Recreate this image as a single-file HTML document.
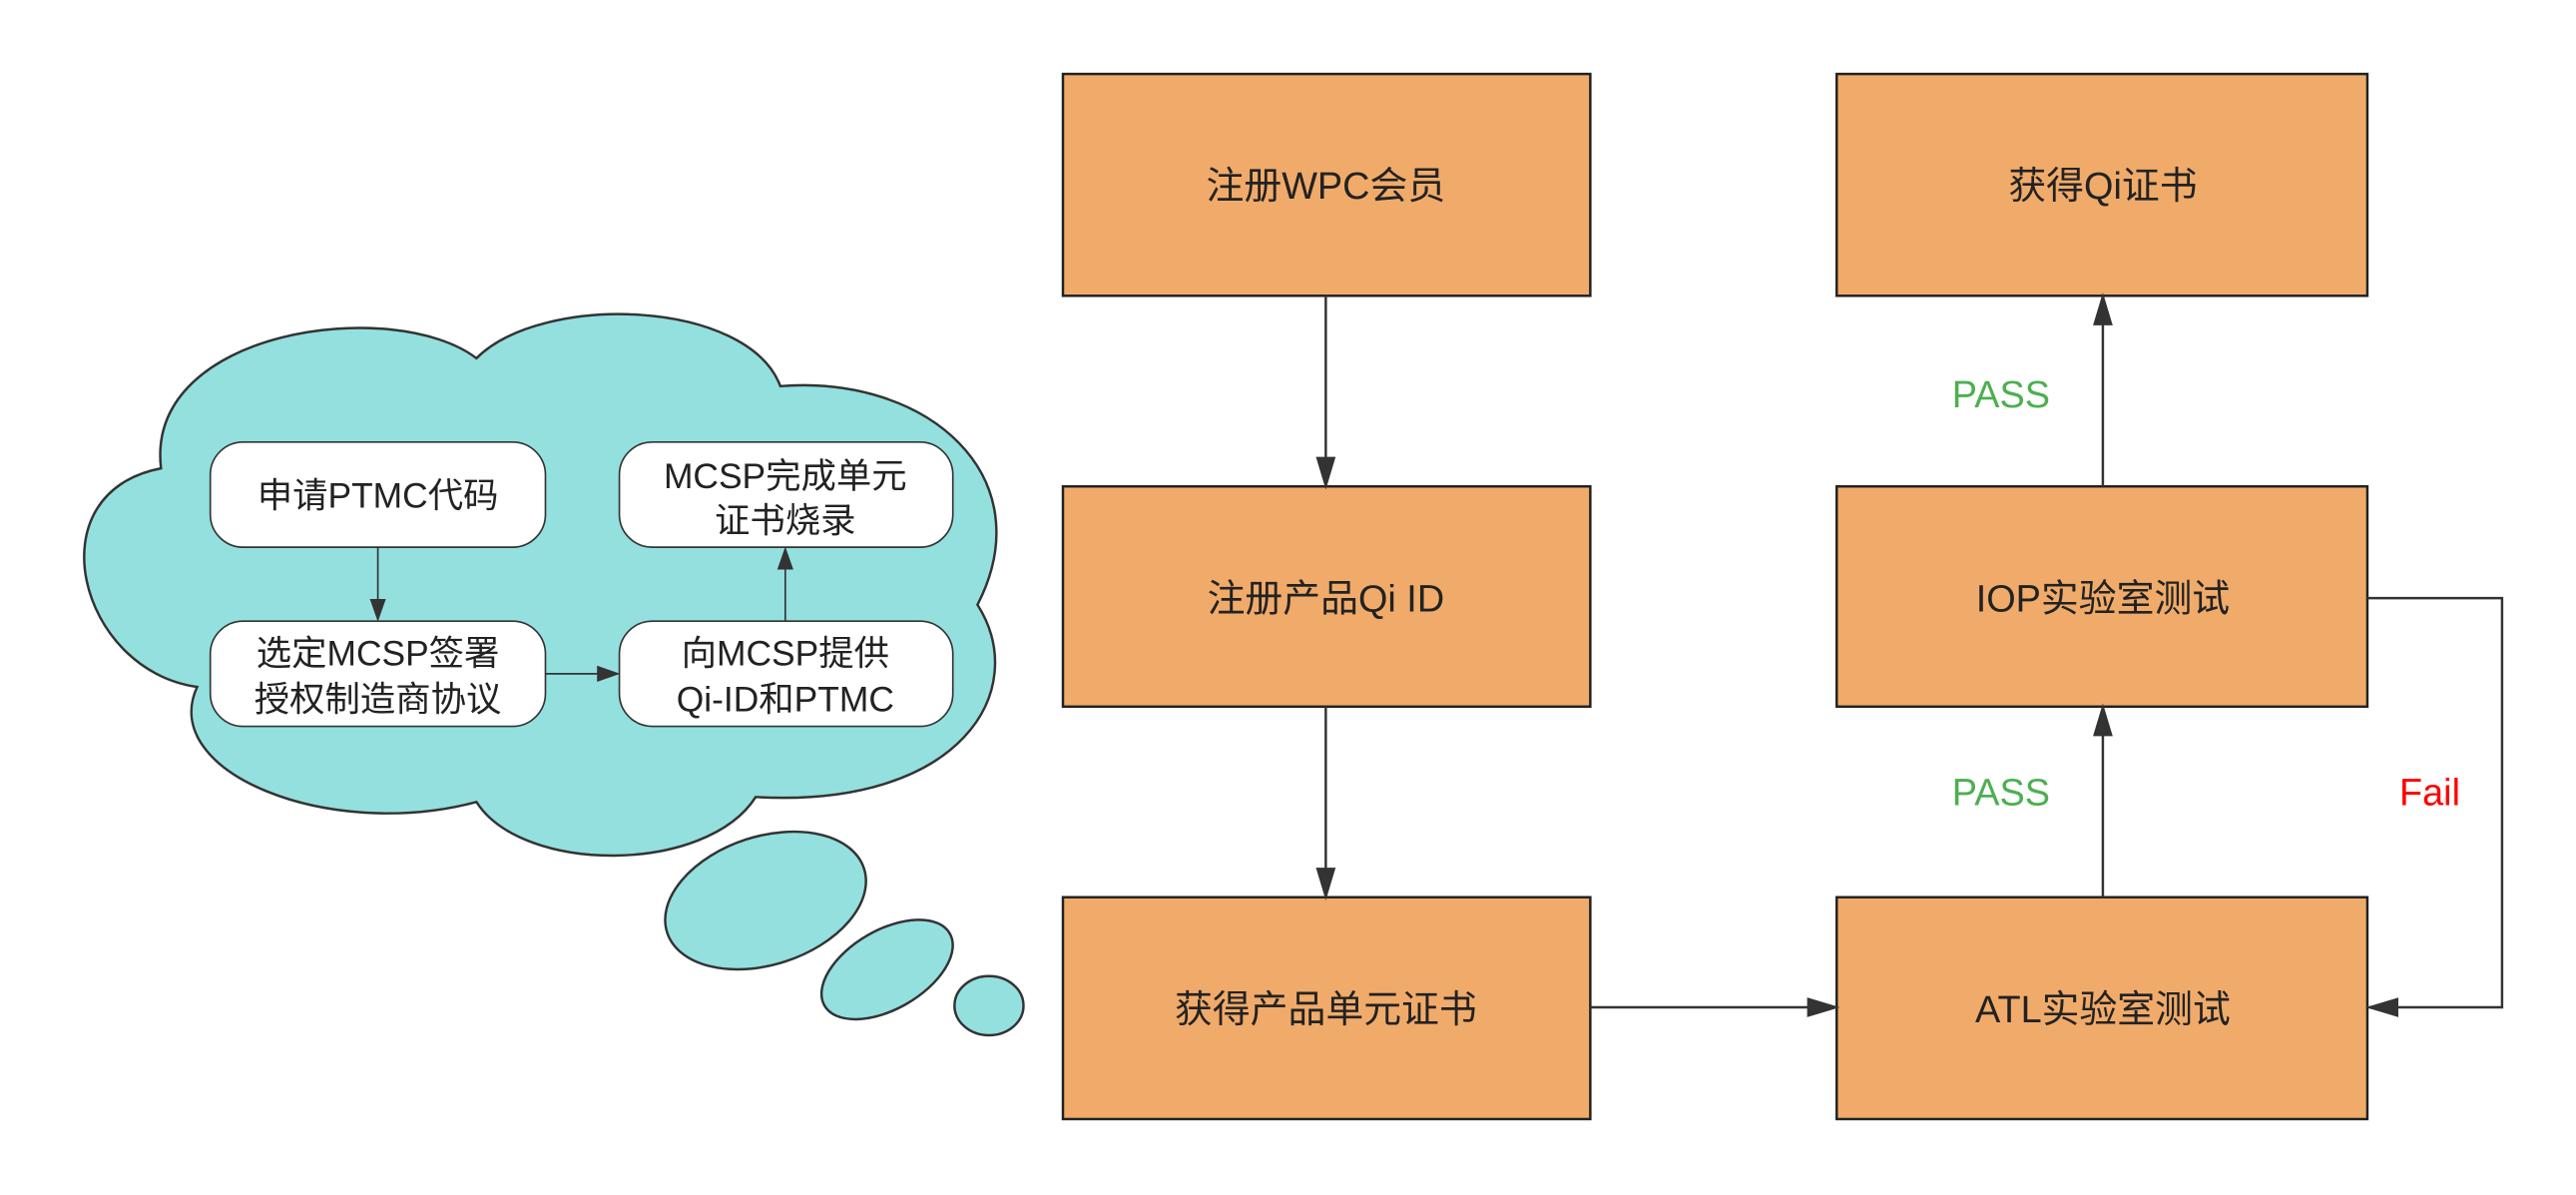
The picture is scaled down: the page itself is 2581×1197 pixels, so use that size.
<!DOCTYPE html>
<html><head><meta charset="utf-8"><style>
html,body{margin:0;padding:0;background:#fff;}
svg{display:block;}
text{font-family:"Liberation Sans","Noto Sans CJK SC",sans-serif;}
</style></head><body>
<svg width="2581" height="1197" viewBox="0 0 1568 727.2" xmlns="http://www.w3.org/2000/svg">
<defs>
<marker id="a" viewBox="0 0 10 10" refX="9" refY="5" markerWidth="14" markerHeight="14" orient="auto" markerUnits="userSpaceOnUse"><path d="M0,1.5 L10,5 L0,8.5 Z" fill="#333"/></marker>
<marker id="b" viewBox="0 0 10 10" refX="9" refY="5" markerWidth="20" markerHeight="20" orient="auto" markerUnits="userSpaceOnUse"><path d="M0,2 L10,5 L0,8 Z" fill="#333"/></marker>
</defs>
<path d="M98,285 C88,200 240,180 290,218 C330,178 455,182 475,235 C565,228 635,290 595,368 C628,420 585,492 460,485 C430,532 318,532 290,488 C200,512 96,470 120,418 C48,408 20,300 98,285 Z" fill="#93e0df" stroke="#333" stroke-width="1.5"/>
<ellipse cx="466" cy="548" rx="63" ry="39" transform="rotate(-18 466 548)" fill="#93e0df" stroke="#333" stroke-width="1.5"/>
<ellipse cx="540" cy="590" rx="44" ry="24" transform="rotate(-30 540 590)" fill="#93e0df" stroke="#333" stroke-width="1.5"/>
<ellipse cx="602" cy="612" rx="21" ry="18" fill="#93e0df" stroke="#333" stroke-width="1.5"/>
<g fill="#fff" stroke="#333" stroke-width="1">
<rect x="128" y="269" width="204" height="64" rx="20"/>
<rect x="377" y="269" width="203" height="64" rx="20"/>
<rect x="128" y="378" width="204" height="64" rx="20"/>
<rect x="377" y="378" width="203" height="64" rx="20"/>
</g>
<g stroke="#333" stroke-width="1" fill="none">
<line x1="230" y1="333" x2="230" y2="377" marker-end="url(#a)"/>
<line x1="332" y1="410" x2="376" y2="410" marker-end="url(#a)"/>
<line x1="478" y1="378" x2="478" y2="334" marker-end="url(#a)"/>
</g>
<g font-size="21.5" fill="#222" text-anchor="middle">
<text x="230" y="309">申请PTMC代码</text>
<text x="478" y="297">MCSP完成单元</text>
<text x="478" y="324">证书烧录</text>
<text x="230" y="405">选定MCSP签署</text>
<text x="230" y="433">授权制造商协议</text>
<text x="478" y="405">向MCSP提供</text>
<text x="478" y="433">Qi-ID和PTMC</text>
</g>
<g fill="#f0ab6a" stroke="#222" stroke-width="1.5">
<rect x="647" y="45" width="321" height="135"/>
<rect x="647" y="296" width="321" height="134"/>
<rect x="647" y="546" width="321" height="135"/>
<rect x="1118" y="45" width="323" height="135"/>
<rect x="1118" y="296" width="323" height="134"/>
<rect x="1118" y="546" width="323" height="135"/>
</g>
<g stroke="#333" stroke-width="1.5" fill="none">
<line x1="807" y1="180" x2="807" y2="296" marker-end="url(#b)"/>
<line x1="807" y1="430" x2="807" y2="546" marker-end="url(#b)"/>
<line x1="968" y1="613" x2="1118" y2="613" marker-end="url(#b)"/>
<line x1="1280" y1="546" x2="1280" y2="430" marker-end="url(#b)"/>
<line x1="1280" y1="296" x2="1280" y2="180" marker-end="url(#b)"/>
<polyline points="1441,364 1523,364 1523,613 1442,613" marker-end="url(#b)"/>
</g>
<g font-size="23" fill="#222" text-anchor="middle">
<text x="807" y="121">注册WPC会员</text>
<text x="807" y="372">注册产品Qi ID</text>
<text x="807" y="622">获得产品单元证书</text>
<text x="1280" y="121">获得Qi证书</text>
<text x="1280" y="372">IOP实验室测试</text>
<text x="1280" y="622">ATL实验室测试</text>
</g>
<g font-size="23" text-anchor="middle">
<text x="1218" y="248" fill="#4caf50">PASS</text>
<text x="1218" y="490" fill="#4caf50">PASS</text>
<text x="1479" y="490" fill="#ff0000">Fail</text>
</g>
</svg>
</body></html>
